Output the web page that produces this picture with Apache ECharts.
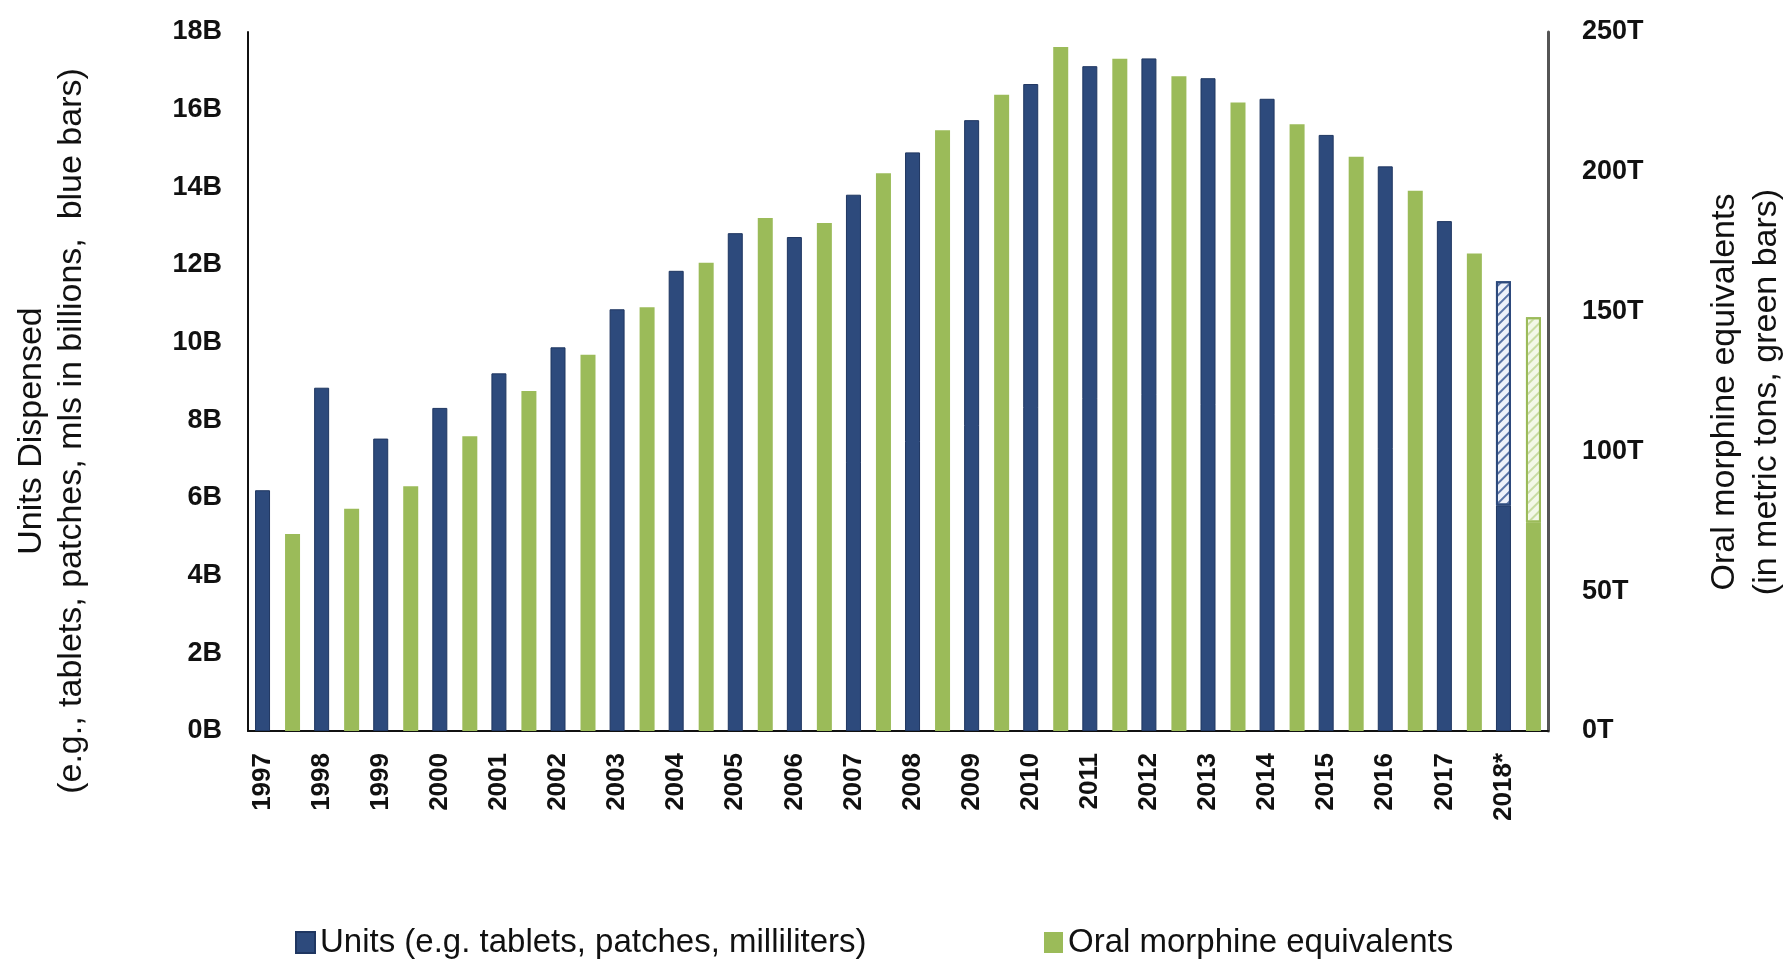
<!DOCTYPE html>
<html>
<head>
<meta charset="utf-8">
<script src="https://cdn.jsdelivr.net/npm/echarts@6/dist/echarts.min.js"></script>
<style>
html,body{margin:0;padding:0;background:#fff;}
#chart{width:1785px;height:959px;}
</style>
</head>
<body>
<div id="chart"></div>
<script>
// ---- data ----
const years = ['1997','1998','1999','2000','2001','2002','2003','2004','2005','2006','2007','2008','2009','2010','2011','2012','2013','2014','2015','2016','2017','2018*'];
// Units dispensed, billions (blue bars); 2018* split into actual + projected (hatched)
const units = [6.20, 8.84, 7.53, 8.32, 9.21, 9.88, 10.86, 11.85, 12.82, 12.72, 13.81, 14.90, 15.73, 16.66, 17.12, 17.32, 16.81, 16.28, 15.35, 14.54, 13.13, 5.81];
const unitsProjected = [null,null,null,null,null,null,null,null,null,null,null,null,null,null,null,null,null,null,null,null,null, 5.77];
// Oral morphine equivalents, metric tons (green bars)
const ome = [70.5, 79.5, 87.5, 105.4, 121.6, 134.6, 151.6, 167.5, 183.5, 181.7, 199.5, 214.9, 227.6, 244.6, 240.4, 234.2, 224.8, 217.0, 205.4, 193.2, 170.8, 74.6];
const omeProjected = [null,null,null,null,null,null,null,null,null,null,null,null,null,null,null,null,null,null,null,null,null, 73.4];
const leftTicks = {min: 0, max: 18, interval: 2, suffix: 'B'};
const rightTicks = {min: 0, max: 250, interval: 50, suffix: 'T'};

const BLUE = '#2D4A7C';
const GREEN = '#9BBB59';
const FONT = '"Liberation Sans", Arial, sans-serif';
const NARROW = '"Liberation Sans Narrow", "Arial Narrow", "Liberation Sans", sans-serif';
const unitsName = 'Units (e.g. tablets, patches, milliliters)';
const omeName = 'Oral morphine equivalents';

const chart = echarts.init(document.getElementById('chart'), null, {renderer: 'canvas'});
chart.setOption({
  backgroundColor: '#ffffff',
  animation: false,
  textStyle: {fontFamily: FONT},
  grid: {left: 248, right: 237, top: 32, bottom: 228, containLabel: false},
  legend: [
    {data: [unitsName], left: 290, top: 921, icon: 'rect', itemWidth: 19, itemHeight: 21, itemGap: 0,
     textStyle: {fontSize: 33, color: '#111', fontFamily: NARROW}},
    {data: [omeName], left: 1039, top: 921, icon: 'rect', itemWidth: 19, itemHeight: 21, itemGap: 0,
     textStyle: {fontSize: 33, color: '#111', fontFamily: NARROW}}
  ],
  xAxis: {
    type: 'category',
    data: years,
    axisLine: {show: true, lineStyle: {color: '#111', width: 2}},
    axisTick: {show: false},
    axisLabel: {
      interval: 0, rotate: 90, margin: 22, verticalAlign: 'bottom', lineHeight: 30,
      fontSize: 26, fontWeight: 'bold', color: '#111', fontFamily: NARROW
    },
    splitLine: {show: false}
  },
  yAxis: [
    {
      type: 'value', min: leftTicks.min, max: leftTicks.max, interval: leftTicks.interval,
      axisLine: {show: true, lineStyle: {color: '#111', width: 2}},
      axisTick: {show: false},
      splitLine: {show: false},
      axisLabel: {formatter: '{value}' + leftTicks.suffix, margin: 26, fontSize: 27, fontWeight: 'bold', color: '#111', fontFamily: NARROW}
    },
    {
      type: 'value', min: rightTicks.min, max: rightTicks.max, interval: rightTicks.interval, position: 'right',
      axisLine: {show: true, lineStyle: {color: '#555', width: 3}},
      axisTick: {show: false},
      splitLine: {show: false},
      axisLabel: {formatter: '{value}' + rightTicks.suffix, margin: 34, fontSize: 27, fontWeight: 'bold', color: '#111', fontFamily: NARROW}
    }
  ],
  series: [
    {
      name: unitsName, type: 'bar', stack: 'units', yAxisIndex: 0, data: units,
      barWidth: 15, barGap: '100%',
      itemStyle: {color: BLUE, borderColor: '#1f3661', borderWidth: 1}
    },
    {
      name: 'Units projected', type: 'bar', stack: 'units', yAxisIndex: 0, data: unitsProjected,
      barWidth: 15, barGap: '100%',
      itemStyle: {color: '#eef2fa', borderColor: BLUE, borderWidth: 2,
        decal: {symbol: 'rect', symbolSize: 1, dashArrayX: [1, 0], dashArrayY: [2, 5], rotation: -Math.PI / 4, color: '#5a74a6'}}
    },
    {
      name: omeName, type: 'bar', stack: 'ome', yAxisIndex: 1, data: ome,
      barWidth: 15, barGap: '100%',
      itemStyle: {color: GREEN}
    },
    {
      name: 'OME projected', type: 'bar', stack: 'ome', yAxisIndex: 1, data: omeProjected,
      barWidth: 15, barGap: '100%',
      itemStyle: {color: '#f3f8e8', borderColor: GREEN, borderWidth: 2,
        decal: {symbol: 'rect', symbolSize: 1, dashArrayX: [1, 0], dashArrayY: [2, 5], rotation: -Math.PI / 4, color: '#c9dca3'}}
    }
  ],
  graphic: [
    {
      type: 'text', x: 52, y: 431, rotation: Math.PI / 2,
      style: {text: 'Units Dispensed\n(e.g., tablets, patches, mls in billions,  blue bars)', align: 'center', verticalAlign: 'middle',
        lineHeight: 40, fontSize: 34, fill: '#111', fontFamily: NARROW}
    },
    {
      type: 'text', x: 1746, y: 392, rotation: Math.PI / 2,
      style: {text: 'Oral morphine equivalents\n(in metric tons, green bars)', align: 'center', verticalAlign: 'middle',
        lineHeight: 42, fontSize: 34, fill: '#111', fontFamily: NARROW}
    }
  ]
});
</script>
</body>
</html>
